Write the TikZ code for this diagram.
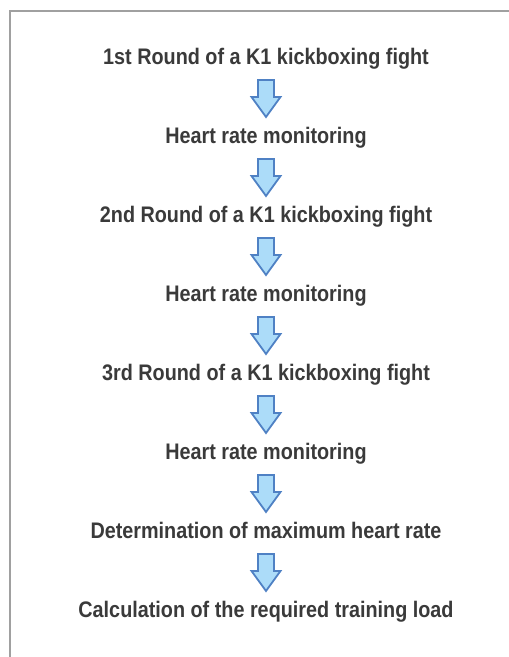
\documentclass[tikz,border=0pt]{standalone}
\usepackage{fontspec}
\setmainfont[FakeStretch=0.88]{Liberation Sans}
\usetikzlibrary{calc}
\definecolor{textgray}{RGB}{58,58,58}
\definecolor{framegray}{RGB}{160,160,160}
\definecolor{arrowfill}{RGB}{172,220,249}
\definecolor{arrowline}{RGB}{79,129,196}
\tikzset{
  steptext/.style={inner sep=0pt,outer sep=0pt,anchor=base,text=textgray,font=\bfseries\fontsize{22.5}{27}\selectfont},
  blockarrow/.pic={
    \path[fill=arrowfill,draw=arrowline,line width=1.8pt,line join=miter]
      (-8,-18.5) -- (8,-18.5) -- (8,-1.5) -- (14.5,-1.5) -- (0,18.5) -- (-14.5,-1.5) -- (-8,-1.5) -- cycle;
  }
}
\begin{document}
\begin{tikzpicture}[x=1pt,y=-1pt]
\path[use as bounding box] (0,0) rectangle (509,657);
\draw[draw=framegray,line width=1.5pt] (509,11) -- (10,11) -- (10,657);
\node[steptext] (t1) at (266,64.5) {1st Round of a K1 kickboxing fight};
\node[steptext] (t2) at (266,143.5) {Heart rate monitoring};
\node[steptext] (t3) at (266,222.5) {2nd Round of a K1 kickboxing fight};
\node[steptext] (t4) at (266,301.5) {Heart rate monitoring};
\node[steptext] (t5) at (266,380.5) {3rd Round of a K1 kickboxing fight};
\node[steptext] (t6) at (266,459.5) {Heart rate monitoring};
\node[steptext] (t7) at (266,538.5) {Determination of maximum heart rate};
\node[steptext] (t8) at (266,617.5) {Calculation of the required training load};
\path ($(t1.base)!0.43!(t2.base)$) pic {blockarrow};
\path ($(t2.base)!0.43!(t3.base)$) pic {blockarrow};
\path ($(t3.base)!0.43!(t4.base)$) pic {blockarrow};
\path ($(t4.base)!0.43!(t5.base)$) pic {blockarrow};
\path ($(t5.base)!0.43!(t6.base)$) pic {blockarrow};
\path ($(t6.base)!0.43!(t7.base)$) pic {blockarrow};
\path ($(t7.base)!0.43!(t8.base)$) pic {blockarrow};
\end{tikzpicture}
\end{document}
